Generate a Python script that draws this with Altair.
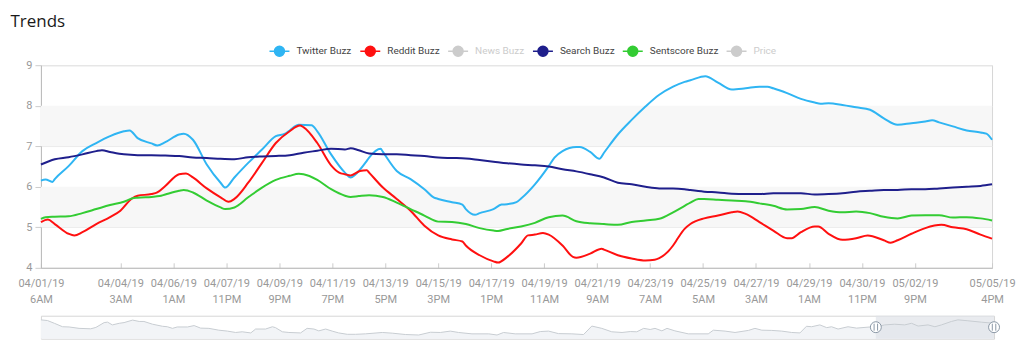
import altair as alt
import pandas as pd

# ---------------- data ----------------
START = "2019-04-01 06:00"
END = "2019-05-05 16:00"

series_names = ["Twitter Buzz", "Reddit Buzz", "News Buzz", "Search Buzz", "Sentscore Buzz", "Price"]
series_colors = ["#2FB5F3", "#FF1010", "#CCCCCC", "#1F1F8C", "#33CC33", "#CCCCCC"]
hidden_series = ["News Buzz", "Price"]

twitter_hours = [0, 4, 10, 12, 24, 36, 48, 60, 72, 77, 84, 96, 101, 108, 120, 124, 132, 144, 156, 160,
                 168, 180, 192, 204, 212, 216, 224, 235, 240, 252, 264, 269, 273, 282, 285, 295, 297, 309, 321, 333,
                 341, 345, 357, 366, 369, 377, 381, 393, 400, 405, 413, 417, 429, 441, 446, 453, 465, 468, 477, 485,
                 489, 501, 513, 525, 537, 549, 559, 564, 577, 588, 600, 612, 624, 631, 636, 648, 660, 672, 677, 684,
                 696, 708, 720, 732, 744, 756, 768, 774, 780, 792, 804, 816, 821, 826]
twitter_values = [6.15, 6.18, 6.12, 6.19, 6.51, 6.88, 7.08, 7.25, 7.37, 7.39, 7.2, 7.07, 7.02, 7.1, 7.29, 7.31, 7.16, 6.55, 6.1, 5.98,
                  6.23, 6.59, 6.92, 7.25, 7.31, 7.39, 7.53, 7.52, 7.37, 6.8, 6.35, 6.23, 6.3, 6.6, 6.72, 6.94, 6.86, 6.39, 6.19, 5.94,
                  5.74, 5.7, 5.62, 5.56, 5.45, 5.31, 5.35, 5.45, 5.56, 5.57, 5.62, 5.71, 6.06, 6.51, 6.72, 6.88, 6.98, 6.98, 6.86, 6.69,
                  6.84, 7.29, 7.65, 7.98, 8.27, 8.47, 8.59, 8.63, 8.73, 8.57, 8.4, 8.43, 8.47, 8.47, 8.43, 8.31, 8.17, 8.08, 8.05, 8.06,
                  8.02, 7.96, 7.9, 7.69, 7.53, 7.57, 7.61, 7.64, 7.59, 7.49, 7.39, 7.34, 7.31, 7.16]

reddit_hours = [0, 6, 12, 24, 29, 36, 48, 60, 69, 79, 84, 96, 101, 108, 120, 126, 132, 144, 156, 163,
                168, 180, 192, 204, 216, 225, 228, 240, 252, 259, 264, 269, 277, 283, 285, 297, 309, 321, 333, 345,
                357, 366, 369, 381, 393, 397, 405, 417, 423, 429, 436, 441, 453, 462, 465, 477, 487, 489, 501, 513,
                525, 533, 537, 549, 552, 559, 564, 576, 588, 600, 605, 612, 624, 636, 648, 652, 660, 672, 675, 684,
                696, 708, 718, 732, 738, 744, 756, 768, 782, 792, 804, 816, 826]
reddit_values = [5.13, 5.19, 5.08, 4.84, 4.8, 4.88, 5.08, 5.25, 5.41, 5.71, 5.78, 5.82, 5.86, 6.02, 6.31, 6.33, 6.23, 5.96, 5.74, 5.63,
                 5.7, 6.1, 6.59, 7.08, 7.37, 7.51, 7.47, 7.08, 6.53, 6.35, 6.31, 6.28, 6.39, 6.41, 6.35, 5.98, 5.7, 5.41, 5.04, 4.8,
                 4.7, 4.65, 4.55, 4.31, 4.16, 4.13, 4.27, 4.6, 4.8, 4.82, 4.86, 4.82, 4.55, 4.27, 4.25, 4.35, 4.47, 4.45, 4.31, 4.23,
                 4.18, 4.2, 4.24, 4.55, 4.68, 4.96, 5.08, 5.22, 5.29, 5.37, 5.39, 5.33, 5.13, 4.92, 4.73, 4.73, 4.88, 5.02, 5.02, 4.84,
                 4.69, 4.73, 4.8, 4.68, 4.62, 4.68, 4.84, 4.98, 5.06, 5.0, 4.95, 4.82, 4.72]

search_hours = [0, 12, 24, 36, 48, 53, 60, 72, 84, 96, 108, 120, 132, 144, 156, 168, 180, 192, 204, 216,
                228, 240, 252, 264, 269, 276, 285, 297, 309, 321, 333, 345, 357, 369, 381, 393, 405, 417, 429, 441,
                453, 465, 477, 489, 501, 513, 525, 537, 549, 559, 564, 576, 588, 600, 612, 624, 636, 648, 660, 672,
                684, 696, 708, 720, 732, 744, 756, 768, 780, 792, 804, 816, 826]
search_values = [6.55, 6.68, 6.73, 6.8, 6.88, 6.9, 6.86, 6.8, 6.78, 6.78, 6.77, 6.76, 6.72, 6.71, 6.69, 6.68, 6.73, 6.75, 6.76, 6.78,
                 6.84, 6.89, 6.94, 6.92, 6.95, 6.9, 6.82, 6.8, 6.8, 6.78, 6.76, 6.72, 6.71, 6.7, 6.66, 6.62, 6.58, 6.55, 6.53, 6.5,
                 6.43, 6.38, 6.31, 6.23, 6.1, 6.06, 6.0, 5.96, 5.96, 5.94, 5.92, 5.88, 5.86, 5.83, 5.82, 5.82, 5.84, 5.84, 5.84, 5.81,
                 5.82, 5.84, 5.88, 5.9, 5.92, 5.92, 5.94, 5.94, 5.96, 5.98, 6.0, 6.02, 6.06]

sentscore_hours = [0, 4, 12, 24, 36, 48, 60, 72, 79, 84, 96, 103, 108, 120, 124, 132, 144, 156, 160, 168,
                   180, 192, 204, 216, 224, 228, 240, 252, 264, 269, 276, 285, 297, 309, 321, 333, 345, 357, 369, 381,
                   393, 397, 405, 417, 429, 441, 453, 465, 477, 489, 501, 513, 525, 537, 549, 559, 564, 571, 576, 588,
                   600, 612, 624, 636, 648, 660, 672, 684, 696, 708, 720, 732, 744, 756, 768, 780, 792, 804, 816, 826]
sentscore_values = [5.21, 5.25, 5.26, 5.27, 5.35, 5.45, 5.55, 5.63, 5.71, 5.73, 5.75, 5.77, 5.81, 5.9, 5.92, 5.86, 5.66, 5.49, 5.45, 5.49,
                    5.74, 5.98, 6.17, 6.27, 6.32, 6.31, 6.17, 5.94, 5.78, 5.75, 5.77, 5.79, 5.75, 5.61, 5.45, 5.29, 5.14, 5.13, 5.08, 4.98,
                    4.92, 4.91, 4.96, 5.02, 5.11, 5.25, 5.29, 5.15, 5.1, 5.08, 5.06, 5.13, 5.17, 5.21, 5.37, 5.53, 5.61, 5.7, 5.7, 5.68,
                    5.66, 5.64, 5.59, 5.53, 5.44, 5.45, 5.5, 5.41, 5.37, 5.39, 5.35, 5.26, 5.22, 5.29, 5.3, 5.3, 5.24, 5.25, 5.22, 5.17]

tick_times = ["2019-04-01 06:00", "2019-04-04 03:00", "2019-04-06 01:00", "2019-04-07 23:00",
              "2019-04-09 21:00", "2019-04-11 19:00", "2019-04-13 17:00", "2019-04-15 15:00",
              "2019-04-17 13:00", "2019-04-19 11:00", "2019-04-21 09:00", "2019-04-23 07:00",
              "2019-04-25 05:00", "2019-04-27 03:00", "2019-04-29 01:00", "2019-04-30 23:00",
              "2019-05-02 21:00", "2019-05-05 16:00"]

y_ticks = [4, 5, 6, 7, 8, 9]
band_low = [5, 7]
band_high = [6, 8]

# navigator (relative level of the full history, days relative to START)
nav_days = [-243.1, -241.2, -239.2, -236.8, -234.9, -232.0, -228.6, -227.1, -224.7, -223.7,
            -222.3, -220.3, -218.9, -216.4, -214.5, -213.1, -210.6, -207.7, -206.3, -204.8,
            -203.4, -200.4, -198.5, -196.6, -194.2, -191.3, -188.8, -186.4, -184.5, -182.0,
            -180.6, -177.7, -175.7, -174.8, -172.8, -170.9, -167.5, -165.6, -163.6, -162.2,
            -160.2, -158.3, -156.4, -153.9, -151.5,
            -148.6, -143.7, -140.8, -136.9, -133.1, -129.7, -126.8, -123.9, -121.5, -117.6,
            -112.7, -110.3, -108.4, -105.0, -100.1, -97.7, -95.3, -92.4, -88.5, -85.1,
            -82.7, -79.8, -76.9, -73.9, -71.5, -69.6, -67.6, -65.7, -64.3, -62.3, -60.8, -58.5,
            -54.6, -48.8, -47.3, -43.9, -41.0, -37.1, -35.2, -33.2, -30.3, -27.4,
            -24.5, -22.1, -20.2, -18.7, -16.3, -14.3, -12.9, -11.0, -8.1, -5.6,
            -1.7, 0.2, 2.6, 5.5, 8.4, 10.4, 12.3, 15.2, 17.2, 19.1, 22.0, 23.9, 26.8, 30.7, 34.4]
nav_values = [0.82, 0.79, 0.67, 0.52, 0.51, 0.45, 0.43, 0.49, 0.7, 0.72,
              0.6, 0.67, 0.7, 0.81, 0.75, 0.75, 0.63, 0.54, 0.52, 0.45,
              0.51, 0.51, 0.57, 0.46, 0.45, 0.37, 0.33, 0.27, 0.3, 0.25,
              0.42, 0.42, 0.52, 0.48, 0.3, 0.27, 0.25, 0.45, 0.42, 0.34,
              0.42, 0.33, 0.25, 0.19, 0.19,
              0.21, 0.27, 0.24, 0.18, 0.16, 0.28, 0.27, 0.33, 0.27, 0.21,
              0.21, 0.16, 0.27, 0.21, 0.21, 0.31, 0.33, 0.22, 0.21, 0.18,
              0.55, 0.45, 0.3, 0.27, 0.31, 0.3, 0.45, 0.4, 0.45, 0.34, 0.45, 0.34,
              0.21, 0.21, 0.37, 0.33, 0.27, 0.36, 0.45, 0.37, 0.36, 0.33,
              0.27, 0.25, 0.54, 0.52, 0.6, 0.48, 0.52, 0.42, 0.52, 0.46,
              0.51, 0.52, 0.6, 0.63, 0.6, 0.67, 0.55, 0.6, 0.52, 0.6, 0.75, 0.82, 0.78, 0.72, 0.67]

# ---------------- build tables ----------------
start_ts = pd.Timestamp(START, tz="UTC")
end_ts = pd.Timestamp(END, tz="UTC")


def iso(t):
    return t.strftime("%Y-%m-%dT%H:%M:%SZ")


def ms(t):
    return int(t.timestamp() * 1000)


rows = []
for name, hrs, vals in [("Twitter Buzz", twitter_hours, twitter_values),
                        ("Reddit Buzz", reddit_hours, reddit_values),
                        ("Search Buzz", search_hours, search_values),
                        ("Sentscore Buzz", sentscore_hours, sentscore_values)]:
    for h, v in zip(hrs, vals):
        rows.append({"time": iso(start_ts + pd.Timedelta(hours=h)), "value": v, "series": name})
df = pd.DataFrame(rows)

bands = pd.DataFrame({"lo": band_low, "hi": band_high})
tick_ms = [ms(pd.Timestamp(t, tz="UTC")) for t in tick_times]

nav_df = pd.DataFrame({
    "time": [iso(start_ts + pd.Timedelta(days=d)) for d in nav_days],
    "level": nav_values,
})
window_df = pd.DataFrame({"start": [iso(start_ts)], "end": [iso(end_ts)]})
handles_df = pd.DataFrame({"time": [iso(start_ts), iso(end_ts)]})

# ---------------- main chart ----------------
W, H = 953, 203
GRAY = "#999999"

y_axis = alt.Axis(values=y_ticks, format="d", labelColor=GRAY, labelFont="Roboto", labelFontSize=11,
                  tickColor="#cccccc", tickSize=6, domainColor="#bbbbbb", gridColor="#e8e8e8",
                  labelPadding=3, minExtent=30, title=None)
y_scale = alt.Scale(domain=[4, 9], nice=False, zero=False)

x_scale = alt.Scale(type="utc", domain=[ms(start_ts), ms(end_ts)], nice=False)
x_axis = alt.Axis(values=tick_ms,
                  labelExpr="[utcFormat(datum.value, '%m/%d/%y'), utcFormat(datum.value, '%-I%p')]",
                  labelColor=GRAY, labelFont="Roboto", labelFontSize=11, labelLineHeight=16,
                  tickColor="#cccccc", tickSize=alt.ExprRef("-5"), domainColor="#bbbbbb", grid=False,
                  labelOverlap=False, labelFlush=False, labelBound=False, labelPadding=15, title=None)

band_layer = alt.Chart(bands).mark_rect(color="#f7f7f7").encode(
    y=alt.Y("lo:Q", scale=y_scale, axis=y_axis),
    y2="hi:Q",
)

legend_symbol = "M-2,0L-1,0M1,0L2,0M-1,0A1,1,0,1,1,1,0A1,1,0,1,1,-1,0"
hidden_list = ",".join("'" + s + "'" for s in hidden_series)

line_layer = alt.Chart(df).mark_line(strokeWidth=2, interpolate="monotone").encode(
    x=alt.X("time:T", scale=x_scale, axis=x_axis),
    y=alt.Y("value:Q", scale=y_scale, axis=y_axis),
    color=alt.Color("series:N",
                    scale=alt.Scale(domain=series_names, range=series_colors),
                    legend=alt.Legend(orient="none", direction="horizontal", legendX=233, legendY=-20,
                                      title=None, symbolType=legend_symbol, symbolSize=100,
                                      symbolStrokeWidth=1.5,
                                      symbolFillColor=alt.ExprRef("scale('color', datum.value)"),
                                      labelColor=alt.ExprRef(
                                          "indexof([" + hidden_list + "], datum.label) >= 0 ? '#cccccc' : '#444444'"),
                                      labelFont="Roboto", labelFontSize=10, labelOffset=11,
                                      columnPadding=5, padding=0)),
)

main = alt.layer(band_layer, line_layer).properties(width=W, height=H)

# ---------------- navigator ----------------
NW, NH = 955, 23
nav_x = alt.X("time:T", scale=alt.Scale(type="utc", nice=False), axis=None)
nav_y = alt.Y("level:Q", scale=alt.Scale(domain=[0, 1], nice=False), axis=None)

nav_area = alt.Chart(nav_df).mark_area(color="#f2f4f7").encode(x=nav_x, y=nav_y)
nav_window = alt.Chart(window_df).mark_rect(color="#dfe3e8", opacity=0.7).encode(
    x=alt.X("start:T", scale=alt.Scale(type="utc", nice=False), axis=None), x2="end:T")
nav_line = alt.Chart(nav_df).mark_line(color="#c8cdd2", strokeWidth=1).encode(x=nav_x, y=nav_y)
nav_handle = alt.Chart(handles_df).mark_point(shape="circle", size=120, filled=True, fill="white",
                                               stroke="#8b98a6", strokeWidth=1, opacity=1).encode(
    x=alt.X("time:T", scale=alt.Scale(type="utc", nice=False), axis=None), y=alt.value(NH / 2))
nav_grip = alt.Chart(handles_df).mark_point(shape="M-0.5,-1L-0.5,1M0.5,-1L0.5,1", size=49, filled=False,
                                             stroke="#8b98a6", strokeWidth=1, opacity=1).encode(
    x=alt.X("time:T", scale=alt.Scale(type="utc", nice=False), axis=None), y=alt.value(NH / 2))

nav = alt.layer(nav_area, nav_window, nav_line, nav_handle, nav_grip).properties(width=NW, height=NH)

chart = alt.vconcat(main, nav, spacing=48, bounds="flush").properties(
    title=alt.TitleParams("Trends", anchor="start", frame="bounds", font="Open Sans", fontSize=17,
                          fontWeight="normal", color="#1a1a1a", offset=14),
    padding={"left": 2, "top": 5, "right": 0, "bottom": 0},
).configure_view(stroke="#d6d6d6")

chart.save("out.html", embed_options={"renderer": "svg", "actions": False})
